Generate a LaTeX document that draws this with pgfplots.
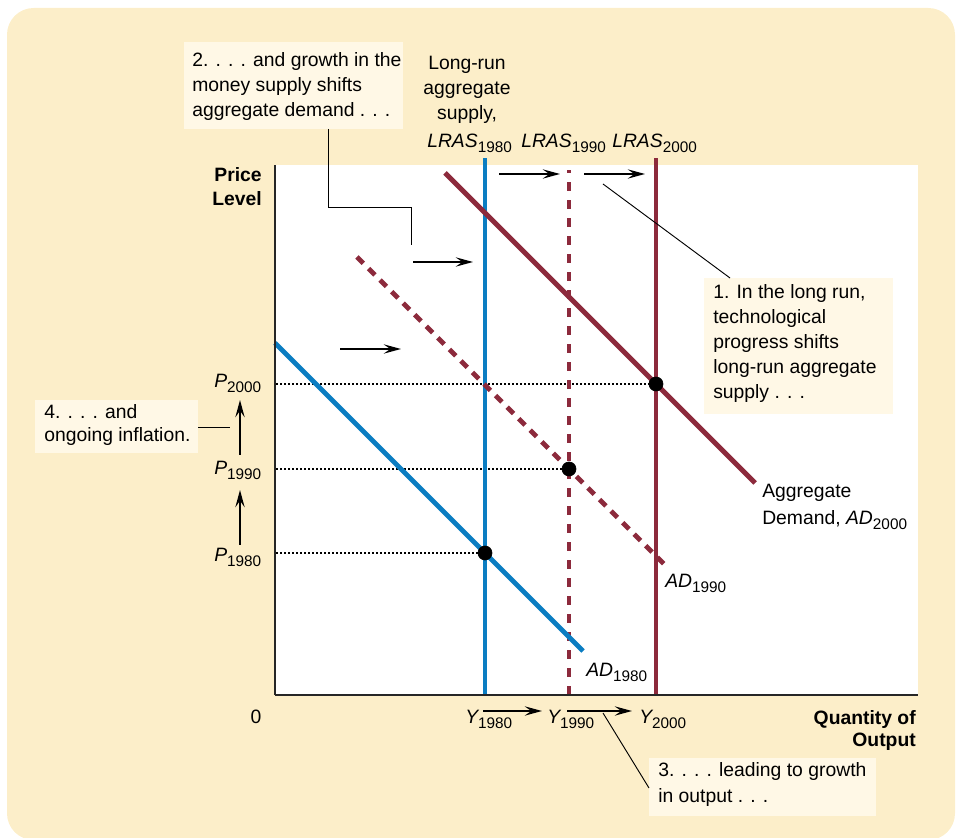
\documentclass[border=0pt]{standalone}
\usepackage{pgfplots}
\pgfplotsset{compat=1.18}
\usepackage{fontspec}
\setmainfont{Liberation Sans}
\usetikzlibrary{arrows.meta}
\definecolor{bg}{HTML}{FCEEC9}
\definecolor{cream}{HTML}{FFF8E6}
\definecolor{adblue}{HTML}{0B7DC2}
\definecolor{adred}{HTML}{8C2A3C}
\newcommand{\sub}[1]{\raisebox{-0.45ex}{\fontsize{11.5}{11.5}\selectfont #1}}
\tikzset{t/.style={font=\fontsize{14.5}{18}\selectfont, inner sep=0pt},
  tb/.style={font=\fontsize{14.5}{18}\selectfont\bfseries, inner sep=0pt},
  arr/.style={-{Stealth[length=13pt,width=7pt,inset=5pt]}, line width=1.1pt, black},
  lead/.style={line width=0.7pt, black}}
\begin{document}
\begin{tikzpicture}[x=0.75pt,y=0.75pt]
\useasboundingbox (0,0) rectangle (956,838);
\fill[bg, rounded corners=20pt] (7,-2) rectangle (955,830);
\fill[white] (275,143) rectangle (918,673);
\begin{axis}[at={(206.25pt,107.25pt)}, anchor=south west, scale only axis,
  x=0.75pt, y=0.75pt, xmin=275, xmax=918, ymin=143, ymax=673, enlargelimits=false,
  axis x line=bottom, axis y line=left, axis line style={-, line width=0.9pt, black!85},
  xtick=\empty, ytick=\empty, clip=false, axis on top]
% dotted guide lines
\addplot[black, line width=1.3pt, dash pattern=on 1.4pt off 1.6pt] coordinates {(276,454) (656,454)};
\addplot[black, line width=1.3pt, dash pattern=on 1.4pt off 1.6pt] coordinates {(276,369) (569,369)};
\addplot[black, line width=1.3pt, dash pattern=on 1.4pt off 1.6pt] coordinates {(276,285) (485,285)};
% LRAS
\addplot[adblue, line width=3.7pt] coordinates {(485,143) (485,680)};
\addplot[adred, line width=3.7pt, dash pattern=on 6.75pt off 6.75pt] coordinates {(569,143) (569,668)};
\addplot[adred, line width=3.7pt] coordinates {(656,143) (656,680)};
% AD
\addplot[adblue, line width=3.7pt] coordinates {(275,495) (583,187)};
\addplot[adred, line width=3.7pt, dash pattern=on 6.75pt off 5.5pt] coordinates {(357,581) (664,274)};
\addplot[adred, line width=3.7pt] coordinates {(445,665) (755,355)};
% equilibria
\addplot[only marks, mark=*, mark size=5.3pt, black] coordinates {(485,285) (569,369) (656,454)};
% arrows
\draw[arr] (axis cs:499,664) -- (axis cs:560,664);
\draw[arr] (axis cs:584,664) -- (axis cs:645,664);
\draw[arr] (axis cs:413,576) -- (axis cs:473,576);
\draw[arr] (axis cs:340,489) -- (axis cs:401,489);
\draw[arr] (axis cs:483,127) -- (axis cs:542,127);
\draw[arr] (axis cs:567,127) -- (axis cs:632,127);
\draw[arr] (axis cs:240,293) -- (axis cs:240,348);
\draw[arr] (axis cs:240,383) -- (axis cs:240,438);
% boxes
\fill[cream] (axis cs:184,709) rectangle (axis cs:403,796);
\fill[cream] (axis cs:704,424) rectangle (axis cs:893,560);
\fill[cream] (axis cs:35,385) rectangle (axis cs:198,438);
\fill[cream] (axis cs:649,22) rectangle (axis cs:876,80);
% leaders
\draw[lead] (axis cs:328,709) -- (axis cs:328,631) -- (axis cs:411,631) -- (axis cs:411,593);
\draw[lead] (axis cs:603,654) -- (axis cs:730,560);
\draw[lead] (axis cs:198,411) -- (axis cs:230,411);
\draw[lead] (axis cs:603,125) -- (axis cs:649,50);
% box texts
\node[t, anchor=base west] at (axis cs:192,771) {2. . . . and growth in the};
\node[t, anchor=base west] at (axis cs:192,746) {money supply shifts};
\node[t, anchor=base west] at (axis cs:192,721) {aggregate demand . . .};
\node[t, anchor=base west] at (axis cs:713,539) {1. In the long run,};
\node[t, anchor=base west] at (axis cs:713,514) {technological};
\node[t, anchor=base west] at (axis cs:713,489) {progress shifts};
\node[t, anchor=base west] at (axis cs:713,464) {long-run aggregate};
\node[t, anchor=base west] at (axis cs:713,439) {supply . . .};
\node[t, anchor=base west] at (axis cs:44,419) {4. . . . and};
\node[t, anchor=base west] at (axis cs:44,396) {ongoing inflation.};
\node[t, anchor=base west] at (axis cs:658,61) {3. . . . leading to growth};
\node[t, anchor=base west] at (axis cs:658,35) {in output . . .};
% LRAS labels
\node[t, anchor=base] at (axis cs:467,768) {Long-run};
\node[t, anchor=base] at (axis cs:467,743) {aggregate};
\node[t, anchor=base] at (axis cs:467,718) {supply,};
\node[t, anchor=base west] at (axis cs:427,690) {\itshape LRAS\sub{\upshape 1980}};
\node[t, anchor=base west] at (axis cs:521,690) {\itshape LRAS\sub{\upshape 1990}};
\node[t, anchor=base west] at (axis cs:612,690) {\itshape LRAS\sub{\upshape 2000}};
% AD labels
\node[t, anchor=base west] at (axis cs:762,340) {Aggregate};
\node[t, anchor=base west] at (axis cs:762,313) {Demand, \itshape AD\sub{\upshape 2000}};
\node[t, anchor=base west] at (axis cs:665,250) {\itshape AD\sub{\upshape 1990}};
\node[t, anchor=base west] at (axis cs:586,161) {\itshape AD\sub{\upshape 1980}};
% axis labels
\node[tb, anchor=base east] at (axis cs:262,656) {Price};
\node[tb, anchor=base east] at (axis cs:262,632) {Level};
\node[tb, anchor=base east] at (axis cs:916,113) {Quantity of};
\node[tb, anchor=base east] at (axis cs:916,91) {Output};
\node[t, anchor=base] at (axis cs:256,114) {0};
\node[t, anchor=base west] at (axis cs:214,450) {\itshape P\sub{\upshape 2000}};
\node[t, anchor=base west] at (axis cs:214,363) {\itshape P\sub{\upshape 1990}};
\node[t, anchor=base west] at (axis cs:214,276) {\itshape P\sub{\upshape 1980}};
\node[t, anchor=base west] at (axis cs:465,114) {\itshape Y\sub{\upshape 1980}};
\node[t, anchor=base west] at (axis cs:547,114) {\itshape Y\sub{\upshape 1990}};
\node[t, anchor=base west] at (axis cs:639,114) {\itshape Y\sub{\upshape 2000}};
\end{axis}
\end{tikzpicture}
\end{document}
